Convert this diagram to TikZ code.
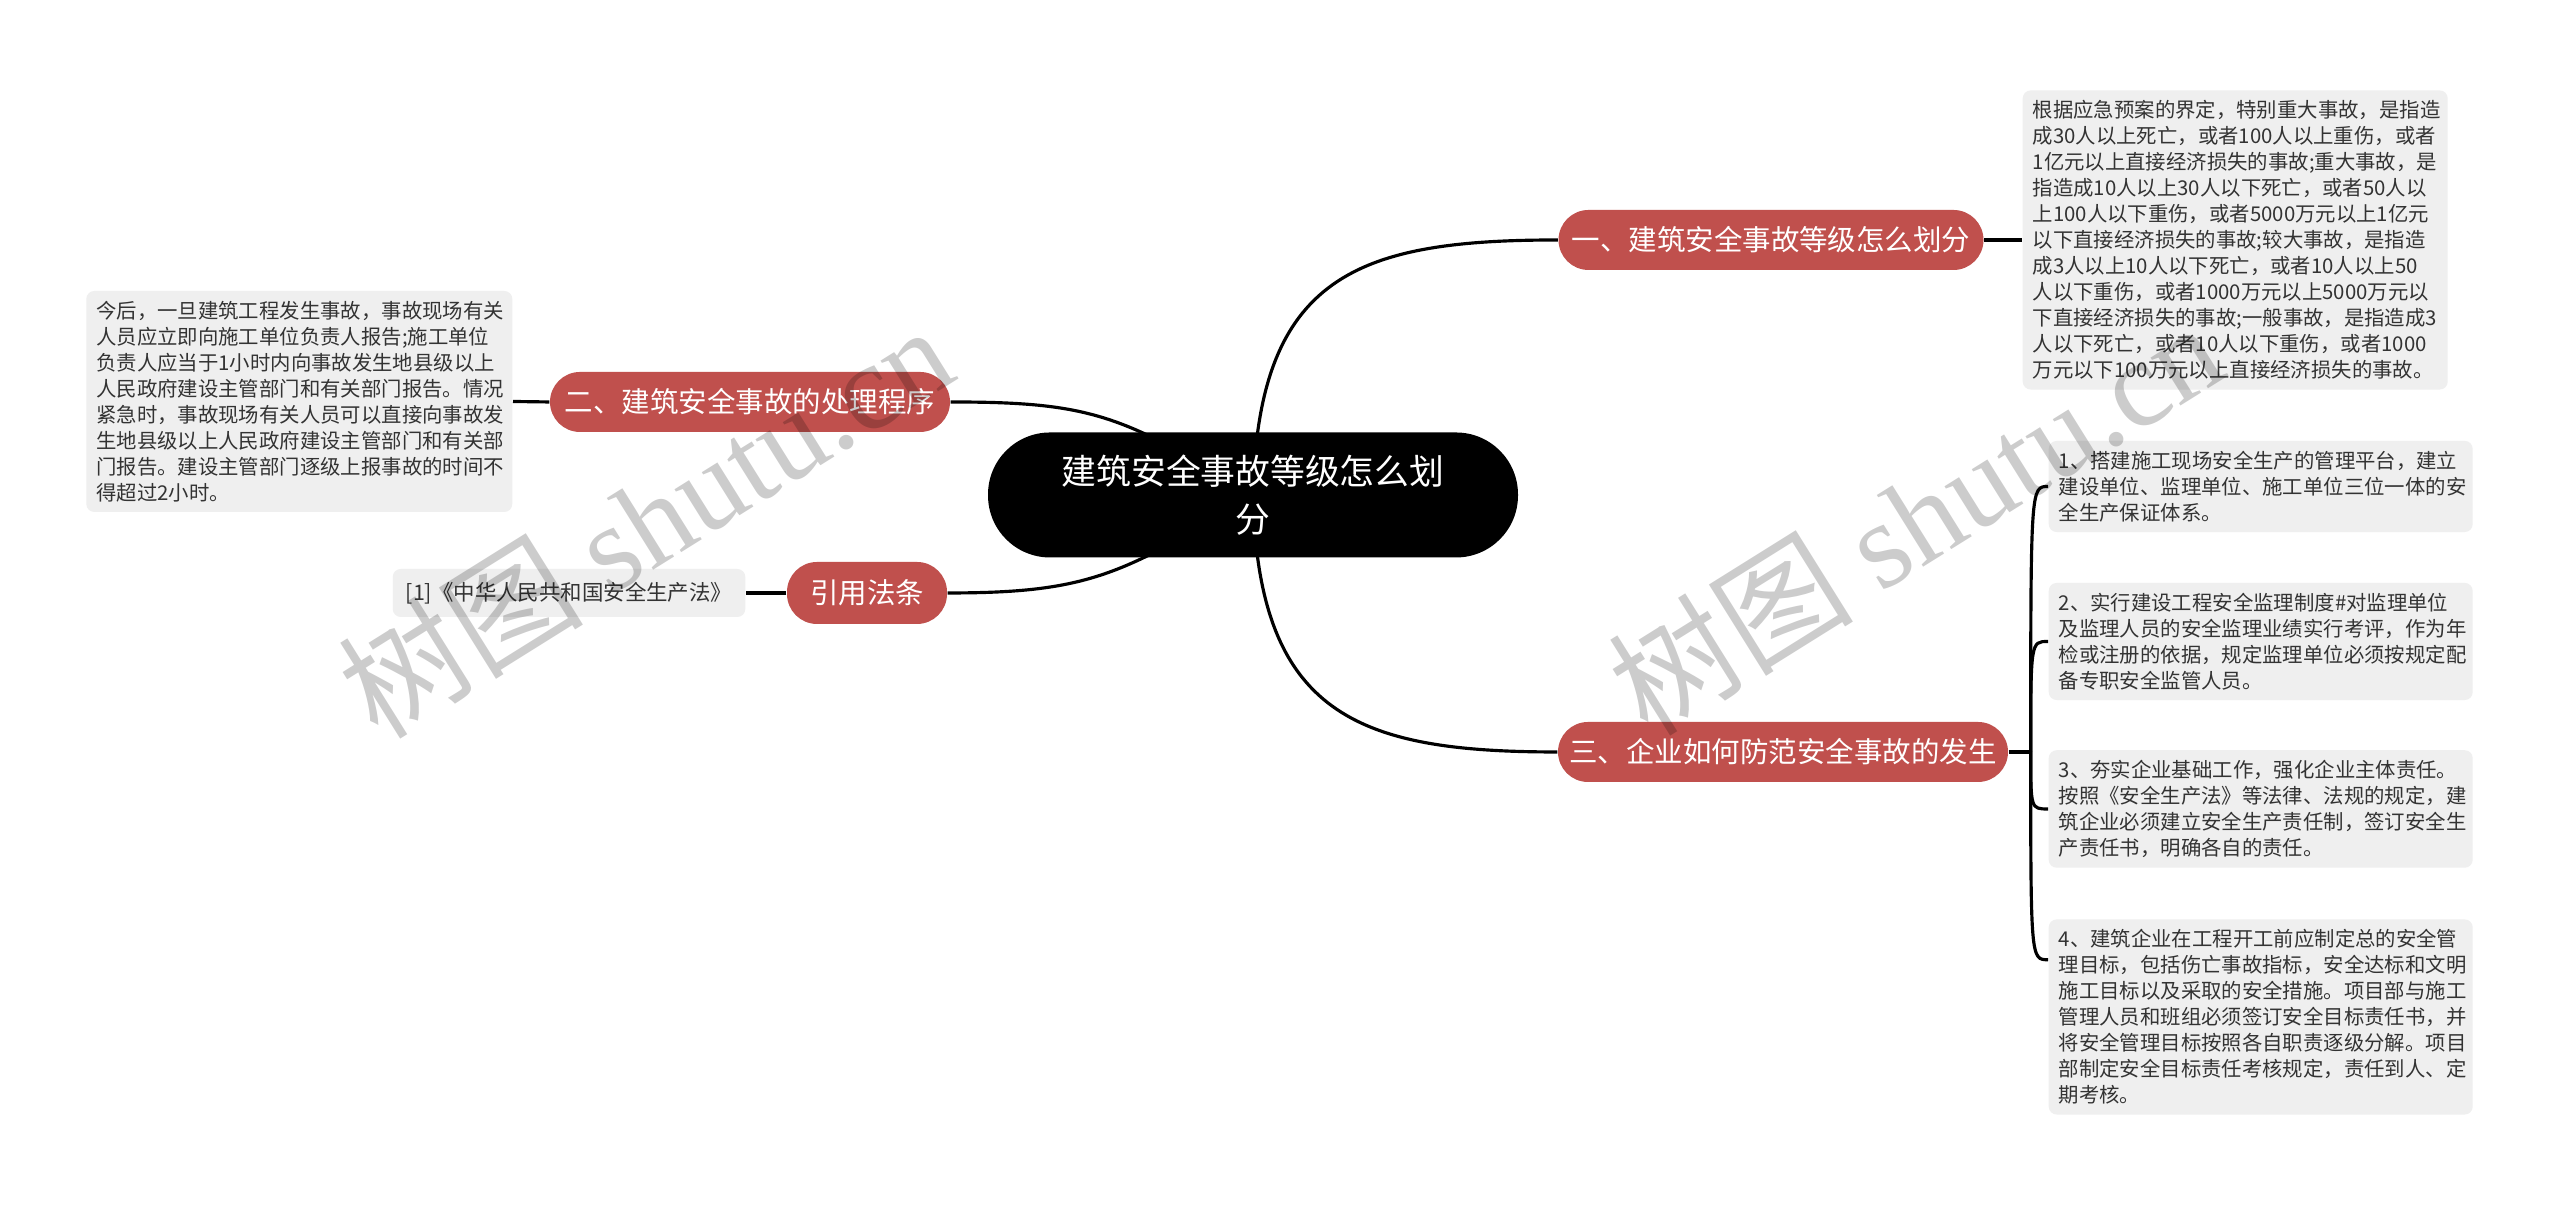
\documentclass[tikz,border=0pt]{standalone}
\usepackage{xcolor}
\usepackage{fontspec}
\setmainfont{Noto Sans CJK SC}
\newfontfamily\wmserif{Liberation Serif}
\usepackage{tikz}
\usetikzlibrary{calc,backgrounds}
\definecolor{brred}{RGB}{192,80,77}
\definecolor{leafgray}{RGB}{239,239,239}
\definecolor{leaftext}{RGB}{51,51,51}
\tikzset{
    root/.style={fill=black, text=white, rounded corners=0.62cm, minimum width=5.3cm, minimum height=1.25cm, align=center, font=\fontsize{9.9}{13.7}\selectfont},
    branch/.style={fill=brred, text=white, rounded corners=0.3cm, minimum height=0.6cm, inner sep=0pt, font=\fontsize{8.1}{10}\selectfont},
    leaf/.style={fill=leafgray, text=leaftext, rounded corners=0.08cm, inner xsep=0.1cm, inner ysep=0.1cm, align=left, font=\fontsize{5.8}{7.4}\selectfont},
    link/.style={line width=0.9pt},
    wmark/.style={text=black, text opacity=0.2, font=\fontsize{35}{35}\selectfont, rotate=32}
}
\begin{document}
\begin{tikzpicture}
    \useasboundingbox (0,0) rectangle (25.6,12.05);
    \node[root] at(12.53,7.10)(root){建筑安全事故等级怎么划\\分};
    \node[branch, minimum width=4.25cm] at(17.71,9.65)(b1){一、建筑安全事故等级怎么划分};
    \node[branch, minimum width=4.0cm] at(7.50,8.03)(b2){二、建筑安全事故的处理程序};
    \node[branch, minimum width=4.5cm] at(17.83,4.53)(b3){三、企业如何防范安全事故的发生};
    \node[branch, minimum width=1.6cm, minimum height=0.62cm] at(8.67,6.12)(b4){引用法条};
    \node[leaf, text width=4.05cm, anchor=west] at(20.22,9.65)(l1){根据应急预案的界定，特别重大事故，是指造\\成30人以上死亡，或者100人以上重伤，或者\\1亿元以上直接经济损失的事故;重大事故，是\\指造成10人以上30人以下死亡，或者50人以\\上100人以下重伤，或者5000万元以上1亿元\\以下直接经济损失的事故;较大事故，是指造\\成3人以上10人以下死亡，或者10人以上50\\人以下重伤，或者1000万元以上5000万元以\\下直接经济损失的事故;一般事故，是指造成3\\人以下死亡，或者10人以下重伤，或者1000\\万元以下100万元以上直接经济损失的事故。};
    \node[leaf, text width=4.06cm, anchor=east] at(5.13,8.035)(l2){今后，一旦建筑工程发生事故，事故现场有关\\人员应立即向施工单位负责人报告;施工单位\\负责人应当于1小时内向事故发生地县级以上\\人民政府建设主管部门和有关部门报告。情况\\紧急时，事故现场有关人员可以直接向事故发\\生地县级以上人民政府建设主管部门和有关部\\门报告。建设主管部门逐级上报事故的时间不\\得超过2小时。};
    \node[leaf, inner xsep=0.13cm, minimum height=0.48cm, font=\fontsize{6.1}{7.4}\selectfont, anchor=east] at(7.46,6.12)(l4){[1]《中华人民共和国安全生产法》};
    \node[leaf, text width=4.04cm, anchor=west] at(20.48,7.185)(l31){1、搭建施工现场安全生产的管理平台，建立\\建设单位、监理单位、施工单位三位一体的安\\全生产保证体系。};
    \node[leaf, text width=4.04cm, anchor=west] at(20.48,5.635)(l32){2、实行建设工程安全监理制度\#对监理单位\\及监理人员的安全监理业绩实行考评，作为年\\检或注册的依据，规定监理单位必须按规定配\\备专职安全监管人员。};
    \node[leaf, text width=4.04cm, anchor=west] at(20.48,3.96)(l33){3、夯实企业基础工作，强化企业主体责任。\\按照《安全生产法》等法律、法规的规定，建\\筑企业必须建立安全生产责任制，签订安全生\\产责任书，明确各自的责任。};
    \node[leaf, text width=4.04cm, anchor=west] at(20.48,1.88)(l34){4、建筑企业在工程开工前应制定总的安全管\\理目标，包括伤亡事故指标，安全达标和文明\\施工目标以及采取的安全措施。项目部与施工\\管理人员和班组必须签订安全目标责任书，并\\将安全管理目标按照各自职责逐级分解。项目\\部制定安全目标责任考核规定，责任到人、定\\期考核。};
    \coordinate (h3) at ($(b3.east)+(0.22,0)$);
    \coordinate (l34in) at ($(l34.north west)+(0,-0.41)$);
    \begin{pgfonlayer}{background}
        \fill[white] (0,0) rectangle (25.6,12.05);
        \draw[link] (root.center) .. controls +(0.05,2.2) and +(-2,0) .. (b1.west);
        \draw[link] (root.center) .. controls +(0.05,-2.2) and +(-2,0) .. (b3.west);
        \draw[link] (root.center) .. controls +(-1.3,0.8) and +(1.4,0) .. (b2.east);
        \draw[link] (root.center) .. controls +(-1.3,-0.8) and +(1.4,0) .. (b4.east);
    \end{pgfonlayer}
    \draw[link] (b1.east) -- (l1.west);
    \draw[link] (b2.west) -- (l2.east);
    \draw[link] (b4.west) -- (l4.east);
    \draw[link] (b3.east) -- (h3);
    \draw[link] (h3) .. controls (h3|-l31.west) .. (l31.west);
    \draw[link] (h3) .. controls (h3|-l32.west) .. (l32.west);
    \draw[link] (h3) .. controls (h3|-l33.west) .. (l33.west);
    \draw[link] (h3) .. controls (h3|-l34in) .. (l34in);
    \node[wmark] at(6.45,6.85)(wm1){树图 {\wmserif shutu.cn}};
    \node[wmark] at(19.15,6.88)(wm2){树图 {\wmserif shutu.cn}};
\end{tikzpicture}
\end{document}
